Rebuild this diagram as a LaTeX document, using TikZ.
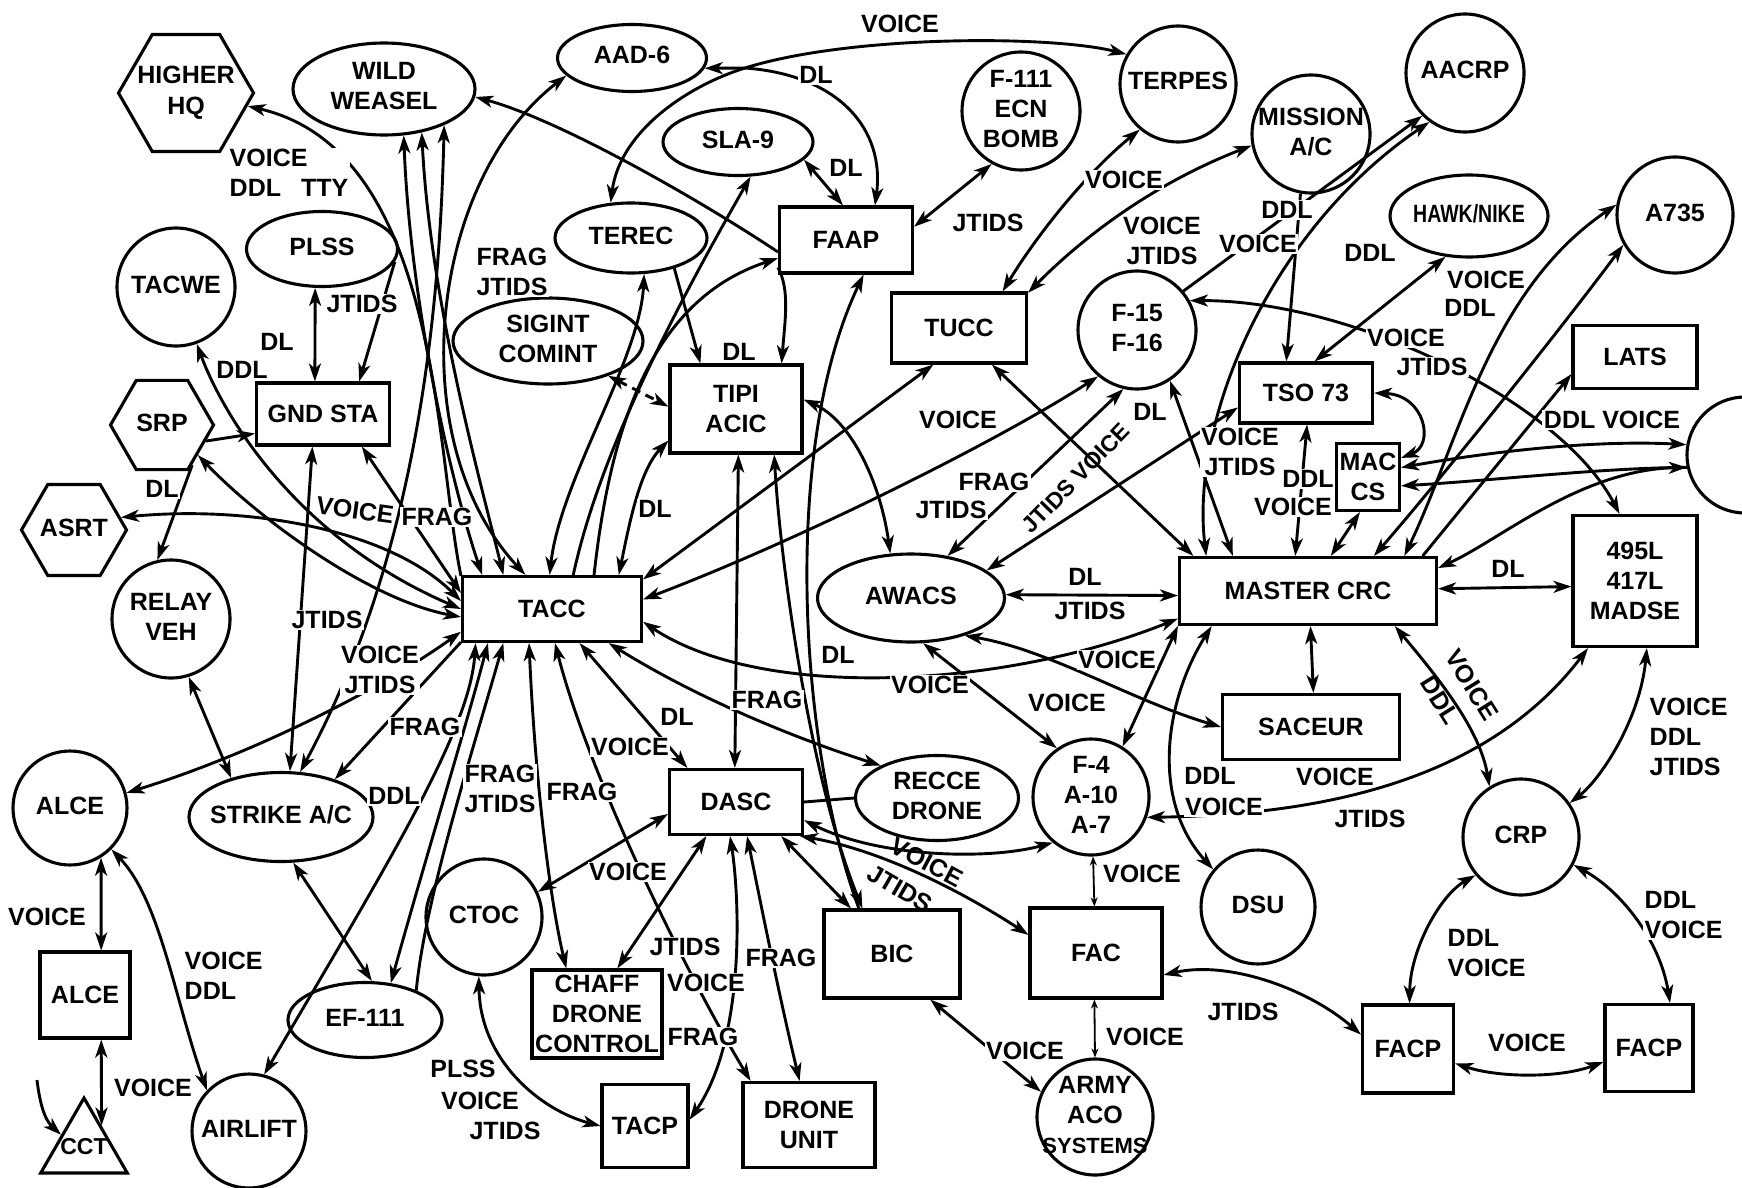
\documentclass[tikz,border=0pt]{standalone}
\usepackage{fontspec}
\setmainfont{Liberation Sans}
\usetikzlibrary{shapes.geometric,arrows.meta}
\newcommand{\nt}[1]{\makebox[0pt]{\begin{tabular}{@{}c@{}}#1\end{tabular}}}
\begin{document}
\begin{tikzpicture}[x=1pt,y=-1pt,
  every node/.style={font=\fontsize{25}{30}\selectfont\bfseries},
  ln/.style={line width=2.9pt},
  >={Stealth[length=18pt,width=12pt,inset=5pt]},
  sm/.style={line width=1.8pt,{Stealth[length=9pt,width=7pt]}-{Stealth[length=9pt,width=7pt]}},
  bx/.style={draw,line width=3.1pt,rectangle,inner sep=0pt,align=center},
  cc/.style={draw,line width=3.1pt,circle,inner sep=0pt},
  el/.style={draw,line width=3.1pt,ellipse,inner sep=0pt},
  hx/.style={draw,line width=3.1pt,regular polygon,regular polygon sides=6,inner sep=0pt},
  lab/.style={fill=white,inner sep=1.5pt,align=center},
  labn/.style={inner sep=0pt,align=center},
]
\useasboundingbox (0,0) rectangle (1742,1188);
\fill[white] (0,0) rectangle (1742,1188);
\clip (0,0) rectangle (1742,1188);

% ---------------- nodes ----------------
\node[hx,minimum size=135pt] (hq) at (186,93) {\nt{HIGHER\\HQ}};
\node[el,minimum width=182pt,minimum height=92pt] (ww) at (384,89) {\nt{WILD\\WEASEL}};
\node[el,minimum width=149pt,minimum height=67pt] (aad) at (632,58) {\nt{AAD-6}};
\node[el,minimum width=150pt,minimum height=67pt] (sla) at (738,142) {\nt{SLA-9}};
\node[el,minimum width=152pt,minimum height=70pt] (terec) at (631,238) {\nt{TEREC}};
\node[el,minimum width=190pt,minimum height=86pt] (sigint) at (548,341) {\nt{SIGINT\\COMINT}};
\node[bx,minimum width=133pt,minimum height=66pt] (faap) at (846,240) {FAAP};
\node[bx,minimum width=132pt,minimum height=88pt] (tipi) at (736,409) {TIPI\\ACIC};
\node[cc,minimum size=118pt] (f111) at (1021,111) {\nt{F-111\\ECN\\BOMB}};
\node[cc,minimum size=116pt] (terpes) at (1178,84) {\nt{TERPES}};
\node[cc,minimum size=118pt] (mission) at (1311,134) {\nt{MISSION\\A/C}};
\node[cc,minimum size=118pt] (aacrp) at (1465,73) {\nt{AACRP}};
\node[el,minimum width=158pt,minimum height=82pt] (hawk) at (1469,216) {\nt{\scalebox{0.78}[1]{HAWK/NIKE}}};
\node[cc,minimum size=116pt] (a735) at (1675,215) {\nt{A735}};
\node[bx,minimum width=124pt,minimum height=63pt] (lats) at (1635,357) {LATS};
\node[cc,minimum size=116pt] (rc) at (1745,455) {};
\node[bx,minimum width=135pt,minimum height=70pt] (tucc) at (959,328) {TUCC};
\node[cc,minimum size=118pt] (f15) at (1137,330) {\nt{F-15\\F-16}};
\node[bx,minimum width=133pt,minimum height=60pt] (tso) at (1306,393) {TSO 73};
\node[bx,minimum width=63pt,minimum height=67pt] (mac) at (1368,477) {MAC\\CS};
\node[bx,minimum width=257pt,minimum height=67pt] (master) at (1308,591) {MASTER CRC};
\node[bx,minimum width=124pt,minimum height=131pt] (madse) at (1635,581) {495L\\417L\\MADSE};
\node[bx,minimum width=177pt,minimum height=65pt] (saceur) at (1311,727) {SACEUR};
\node[cc,minimum size=116pt] (crp) at (1521,837) {\nt{CRP}};
\node[bx,minimum width=91pt,minimum height=88pt] (facp1) at (1408,1049) {FACP};
\node[bx,minimum width=88pt,minimum height=87pt] (facp2) at (1649,1048) {FACP};
\node[cc,minimum size=114pt] (dsu) at (1258,907) {\nt{DSU}};
\node[bx,minimum width=132pt,minimum height=90pt] (fac) at (1096,953) {FAC};
\node[cc,minimum size=116pt] (army) at (1095,1117) {\nt{ARMY\\ACO\\{\fontsize{22}{30}\selectfont SYSTEMS}}};
\node[bx,minimum width=136pt,minimum height=88pt] (bic) at (892,954) {BIC};
\node[cc,minimum size=116pt] (f4) at (1091,797) {\nt{F-4\\A-10\\A-7}};
\node[el,minimum width=163pt,minimum height=85pt] (recce) at (937,798) {\nt{RECCE\\DRONE}};
\node[el,minimum width=187pt,minimum height=88pt] (awacs) at (911,598) {\nt{AWACS}};
\node[bx,minimum width=179pt,minimum height=65pt] (tacc) at (552,609) {TACC};
\node[bx,minimum width=133pt,minimum height=65pt] (dasc) at (736,802) {DASC};
\node[cc,minimum size=116pt] (ctoc) at (484,917) {\nt{CTOC}};
\node[bx,minimum width=130pt,minimum height=88pt] (chaff) at (597,1014) {CHAFF\\DRONE\\CONTROL};
\node[bx,minimum width=86pt,minimum height=83pt] (tacp) at (645,1126) {TACP};
\node[bx,minimum width=132pt,minimum height=85pt] (drone) at (809,1125) {DRONE\\UNIT};
\node[el,minimum width=154pt,minimum height=75pt] (ef111) at (365,1020) {\nt{EF-111}};
\node[cc,minimum size=114pt] (airlift) at (249,1131) {\nt{AIRLIFT}};
\node[draw,line width=3.1pt,regular polygon,regular polygon sides=3,inner sep=0pt,minimum size=100pt] (cct) at (84,1148) {\nt{\fontsize{23}{25}\selectfont CCT}};
\node[bx,minimum width=90pt,minimum height=86pt] (alcer) at (85,995) {ALCE};
\node[cc,minimum size=114pt] (alcec) at (70,808) {\nt{ALCE}};
\node[el,minimum width=184pt,minimum height=89pt] (strike) at (281,817) {\nt{STRIKE A/C}};
\node[cc,minimum size=118pt] (relay) at (171,619) {\nt{RELAY\\VEH}};
\node[hx,minimum size=105pt] (asrt) at (74,530) {\nt{ASRT}};
\node[hx,minimum size=103pt] (srp) at (162,425) {\nt{SRP}};
\node[bx,minimum width=133pt,minimum height=62pt] (gnd) at (323,414) {GND STA};
\node[el,minimum width=151pt,minimum height=75pt] (plss) at (322,249) {\nt{PLSS}};
\node[cc,minimum size=118pt] (tacwe) at (176,287) {\nt{TACWE}};
\coordinate (jn) at (745,68);
\coordinate (cin) at (37,1080);

% ---------------- connectors: left ----------------
\draw[ln,->] (tacc.160) .. controls (435,450) and (440,150) .. (hq.-12);
\draw[ln,<->] (ww.-67) .. controls (410,300) and (450,480) .. (tacc.154);
\draw[ln,<->] (ww.-49) .. controls (430,300) and (480,480) .. (tacc.145);
\draw[ln,<->] (ww.-31) .. controls (440,300) and (420,550) .. (strike.67);
\draw[ln,<->] (tacc.128) .. controls (400,440) and (430,180) .. (aad.-165);
\draw[ln,->] (faap.-170) .. controls (700,200) and (560,120) .. (ww.-5);
\draw[ln,<->] (plss.-100) -- (gnd.104);
\draw[ln,->] (plss.-10) -- (gnd.42);
\draw[ln,<->] (tacwe.-70) .. controls (225,420) and (300,540) .. (tacc.180);
\draw[ln,<->] (srp.-40) .. controls (260,520) and (370,600) .. (tacc.-175);
\draw[ln,->] (srp.-20) -- (gnd.-164);
\draw[ln,->] (srp.-53) -- (relay.103);
\draw[ln,<->] (asrt.15) .. controls (250,505) and (390,530) .. (tacc.175);
\draw[ln,<->] (gnd.-40) -- (tacc.170);
\draw[ln,<->] (gnd.-108) -- (strike.79);
\draw[ln,<->] (relay.-73) -- (strike.142);
\draw[ln,<->] (tacc.-166) .. controls (380,690) and (250,755) .. (alcec.15);
\draw[ln,->] (tacc.-160) -- (strike.35);
\draw[ln,<->] (strike.-75) -- (ef111.80);
\draw[ln,<->] (tacc.-152) .. controls (465,730) and (425,860) .. (ef111.55);
\draw[ln,<->] (tacc.-156) .. controls (470,730) and (390,860) .. (airlift.75);
\draw[ln,->] (ef111.30) .. controls (425,900) and (470,760) .. (tacc.-145);
\draw[ln,<->] (alcec.-58) -- (alcer.70);
\draw[ln,<->] (alcer.-70) -- (cct.52);
\draw[ln,->] (cin) .. controls (40,1105) and (45,1120) .. (cct.150);
\draw[ln,<->] (alcec.-45) .. controls (160,900) and (175,1000) .. (airlift.136);

% ---------------- connectors: middle ----------------
\draw[ln,<->] (tacc.94) .. controls (560,480) and (640,360) .. (terec.-70);
\draw[ln,->] (tacc.58) .. controls (600,450) and (680,300) .. (sla.-70);
\draw[ln,->] (tacc.39) .. controls (610,430) and (650,300) .. (faap.-165);
\draw[ln,<->] (tacc.27) .. controls (630,520) and (640,470) .. (tipi.-155);
\draw[ln,<->,dash pattern=on 9pt off 6pt] (sigint.-30) -- (tipi.178);
\draw[ln,->] (terec.-35) -- (tipi.128);
\draw[ln,->] (faap.-158) .. controls (790,290) and (785,320) .. (tipi.45);
\draw[ln,->] (bic.126) .. controls (800,750) and (780,450) .. (faap.-63);
\draw[ln,<->] (tipi.-50) .. controls (780,560) and (810,780) .. (bic.123);
\draw[ln,<->] (tipi.-87) -- (dasc.92);
\draw[ln,<->] (tipi.8) .. controls (850,420) and (880,480) .. (awacs.115);
\draw[ln,<->] (tacc.18) -- (tucc.-125);
\draw[ln,<->] (f15.-130) .. controls (1000,440) and (800,540) .. (tacc.6);
\draw[ln,<->] (awacs.20) -- (tso.-168);
\draw[ln,<->] (awacs.49) -- (f15.-103);
\draw[ln,<->] (awacs.2) -- (master.182);
\draw[ln,<->] (tacc.-8) .. controls (760,700) and (1000,690) .. (master.192);
\draw[ln,<->] (awacs.-35) .. controls (1050,650) and (1130,700) .. (saceur.180);
\draw[ln,<->] (awacs.-75) -- (f4.125);
\draw[ln,<->] (f4.58) -- (master.-165);
\draw[ln,<->] (master.-160) .. controls (1165,700) and (1150,800) .. (dsu.140);
\draw[ln,<->] (master.-86) -- (saceur.86);
\draw[ln,<->] (f4.-20) .. controls (1300,815) and (1480,790) .. (madse.-125);
\draw[ln,<->] (master.-22) .. controls (1440,680) and (1480,730) .. (crp.122);
\draw[ln,<->] (madse.-80) .. controls (1640,720) and (1600,780) .. (crp.35);
\draw[ln,<->] (master.1) -- (madse.-175);
\draw[ln,<->] (crp.-140) .. controls (1440,895) and (1410,950) .. (facp1.88);
\draw[ln,<->] (crp.-28) .. controls (1620,890) and (1660,940) .. (facp2.65);
\draw[ln,<->] (facp1.-17) .. controls (1500,1078) and (1560,1078) .. (facp2.-163);
\draw[ln,<->] (fac.-18) .. controls (1230,960) and (1310,990) .. (facp1.163);
\draw[sm] (f4.-88) -- (fac.92);
\draw[sm] (fac.-92) -- (army.90);
\draw[ln,<->] (bic.-50) -- (army.155);
\draw[ln,<->] (dasc.-15) .. controls (880,858) and (990,860) .. (f4.-130);
\draw[ln,<->] (dasc.-28) .. controls (880,850) and (960,890) .. (fac.165);
\draw[ln] (dasc.0) -- (recce.180);
\draw[ln,<->] (tacc.-31.5) .. controls (700,700) and (800,740) .. (recce.150);
\draw[ln,<->] (tacc.-51) -- (dasc.145);
\draw[ln,<->] (tacc.-85) .. controls (590,780) and (690,980) .. (drone.143);
\draw[ln,<->] (tacc.-124) .. controls (535,780) and (550,900) .. (chaff.124);
\draw[ln,<->] (ctoc.25) -- (dasc.190);
\draw[ln,<->] (chaff.66) -- (dasc.-131);
\draw[ln,<->] (dasc.-100) .. controls (740,900) and (745,1040) .. (tacp.8);
\draw[ln,<->] (dasc.-72) .. controls (760,900) and (780,1000) .. (drone.102);
\draw[ln,<->] (dasc.-37) -- (bic.132);
\draw[ln,<->] (ctoc.-95) .. controls (480,1060) and (540,1110) .. (tacp.180);

% ---------------- connectors: top / right ----------------
\draw[ln,->] (jn) -- (aad.-8);
\draw[ln,->] (jn) .. controls (850,35) and (1050,35) .. (terpes.150);
\draw[ln,->] (jn) .. controls (840,75) and (885,130) .. (faap.50);
\draw[ln,->] (jn) .. controls (690,85) and (620,130) .. (terec.120);
\draw[ln,<->] (faap.95) -- (sla.-15);
\draw[ln,<->] (faap.11) -- (f111.-119);
\draw[ln,<->] (tucc.40) .. controls (1040,230) and (1090,170) .. (terpes.-130);
\draw[ln,<->] (tucc.27) .. controls (1080,240) and (1150,185) .. (mission.-169);
\draw[ln,<->] (tucc.-48) -- (master.163);
\draw[ln,<->] (f15.-57) -- (master.155);
\draw[ln,<->] (master.161) .. controls (1190,420) and (1270,230) .. (aacrp.-126);
\draw[ln,->] (mission.-100) -- (tso.122);
\draw[ln,->] (f15.40) -- (aacrp.-135);
\draw[ln,<->] (tso.75) -- (hawk.-120);
\draw[ln,<->] (master.20) .. controls (1460,440) and (1490,290) .. (a735.170);
\draw[ln,<->] (master.28) .. controls (1440,480) and (1560,330) .. (a735.-150);
\draw[ln,->] (master.17) -- (lats.-165);
\draw[ln,<->] (f15.29) .. controls (1350,300) and (1560,400) .. (madse.103);
\draw[ln,<->] (tso.0) .. controls (1425,395) and (1435,445) .. (mac.30);
\draw[ln,<->] (tso.-88) -- (master.110);
\draw[ln,<->] (mac.-103) -- (master.57);
\draw[ln,<->] (mac.16) .. controls (1500,450) and (1600,440) .. (rc.170);
\draw[ln,<-] (mac.-15) .. controls (1500,480) and (1600,468) .. (rc.-168);
\draw[ln,<->] (master.10) .. controls (1500,540) and (1580,470) .. (rc.-168);

% ---------------- labels ----------------
\node[lab,align=left,anchor=west] (l1) at (228,173) {VOICE\\DDL\hspace{0.8em}TTY};
\node[lab] (l3) at (362,304) {JTIDS};
\node[lab] (l4) at (277,342) {DL};
\node[lab] (l5) at (242,370) {DDL};
\node[lab] (l6) at (162,489) {DL};
\node[lab,rotate=-8] (l7) at (355,510) {VOICE};
\node[lab] (l8) at (437,517) {FRAG};
\node[lab] (l9) at (327,620) {JTIDS};
\node[lab] (l10) at (380,670) {VOICE\\JTIDS};
\node[lab] (l11) at (425,727) {FRAG};
\node[lab] (l12) at (394,796) {DDL};
\node[lab] (l13) at (500,789) {FRAG\\JTIDS};
\node[lab] (l14) at (582,792) {FRAG};
\node[lab] (l15) at (47,917) {VOICE};
\node[lab,align=left,anchor=west] (l16) at (183,976) {VOICE\\DDL};
\node[lab] (l17) at (153,1088) {VOICE};
\node[lab] (l18) at (463,1069) {PLSS};
\node[lab] (l19) at (480,1101) {VOICE};
\node[lab] (l20) at (505,1131) {JTIDS};
\node[lab] (l21) at (512,272) {FRAG\\JTIDS};
\node[lab] (l22) at (739,352) {DL};
\node[lab] (l23) at (846,168) {DL};
\node[lab] (l24) at (816,75) {DL};
\node[lab] (l25) at (900,24) {VOICE};
\node[lab] (l26) at (988,223) {JTIDS};
\node[lab] (l27) at (1124,180) {VOICE};
\node[lab] (l28) at (1162,241) {VOICE\\JTIDS};
\node[lab] (l29) at (1287,210) {DDL};
\node[lab] (l30) at (1258,244) {VOICE};
\node[lab] (l31) at (1370,253) {DDL};
\node[lab] (l32) at (1486,280) {VOICE};
\node[lab] (l33) at (1470,308) {DDL};
\node[lab] (l34) at (1406,338) {VOICE};
\node[lab] (l35) at (1432,367) {JTIDS};
\node[lab] (l36) at (1612,420) {DDL VOICE};
\node[lab] (l37) at (655,509) {DL};
\node[lab] (l38) at (958,420) {VOICE};
\node[lab] (l39) at (1150,412) {DL};
\node[lab] (l40) at (994,482) {FRAG};
\node[lab] (l41) at (951,510) {JTIDS};
\node[labn,rotate=46,font=\fontsize{23}{28}\selectfont\bfseries] (l42) at (1076,478) {JTIDS VOICE};
\node[lab] (l43) at (1240,452) {VOICE\\JTIDS};
\node[lab] (l44) at (1308,479) {DDL};
\node[lab] (l45) at (1293,507) {VOICE};
\node[lab] (l46) at (1085,577) {DL};
\node[lab] (l47) at (1090,611) {JTIDS};
\node[lab] (l48) at (1508,569) {DL};
\node[lab] (l49) at (838,655) {DL};
\node[lab] (l50) at (1117,660) {VOICE};
\node[lab] (l51) at (930,685) {VOICE};
\node[lab] (l52) at (1067,703) {VOICE};
\node[lab] (l53) at (767,700) {FRAG};
\node[lab] (l54) at (677,717) {DL};
\node[lab] (l55) at (630,747) {VOICE};
\node[lab] (l56) at (628,872) {VOICE};
\node[lab] (l57) at (685,947) {JTIDS};
\node[lab] (l58) at (706,983) {VOICE};
\node[lab] (l59) at (703,1037) {FRAG};
\node[lab] (l60) at (781,958) {FRAG};
\node[labn,rotate=-28] (l61) at (927,862) {VOICE};
\node[labn,rotate=-30] (l62) at (900,889) {JTIDS};
\node[lab] (l63) at (1142,874) {VOICE};
\node[lab] (l64) at (1145,1037) {VOICE};
\node[lab] (l65) at (1025,1051) {VOICE};
\node[lab] (l66) at (1243,1012) {JTIDS};
\node[lab] (l67) at (1210,776) {DDL};
\node[lab] (l68) at (1224,807) {VOICE};
\node[lab] (l69) at (1335,777) {VOICE};
\node[lab] (l70) at (1370,819) {JTIDS};
\node[labn,rotate=-58] (l71) at (1472,685) {VOICE};
\node[labn,rotate=-58] (l72) at (1440,700) {DDL};
\node[lab,align=left,anchor=west] (l73) at (1648,737) {VOICE\\DDL\\JTIDS};
\node[lab,align=left,anchor=west] (l74) at (1446,953) {DDL\\VOICE};
\node[lab,align=left,anchor=west] (l75) at (1643,915) {DDL\\VOICE};
\node[lab] (l76) at (1527,1043) {VOICE};
\end{tikzpicture}
\end{document}
